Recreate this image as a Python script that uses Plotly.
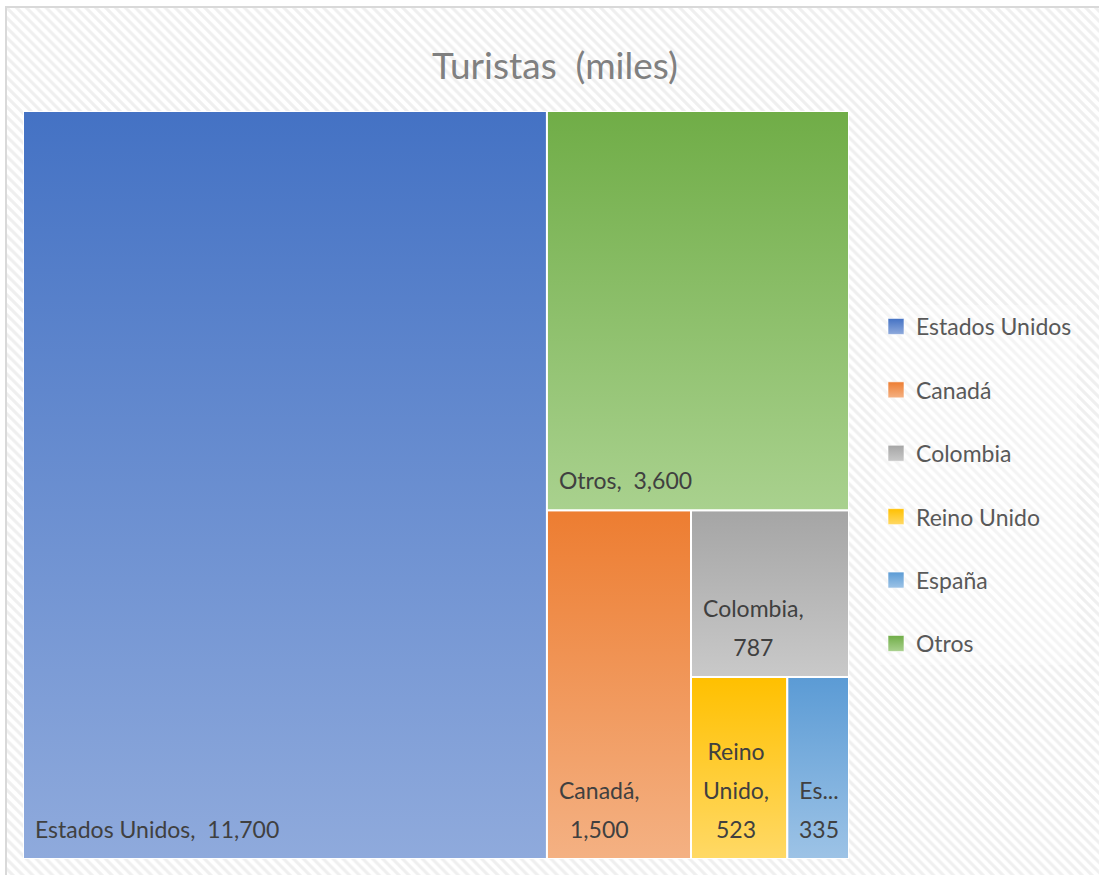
import plotly.graph_objects as go

# Tourist arrivals (thousands) by country of origin
countries = ["Estados Unidos", "Canadá", "Colombia", "Reino Unido", "España", "Otros"]
tourists = [11700, 1500, 787, 523, 335, 3600]

# Gradient fills: darker tone at the top of each tile, lighter at the bottom
color_top = ["#4472C4", "#ED7D31", "#A5A5A5", "#FFC000", "#5B9BD5", "#70AD47"]
color_bottom = ["#8FAADC", "#F4B183", "#C9C9C9", "#FFD966", "#9DC3E6", "#A9D18E"]

# How each name is written inside its tile (wrapped / shortened for narrow tiles)
tile_names = ["Estados Unidos", "Canadá", "Colombia", "Reino<br>Unido", "Es...", "Otros"]
name_value_sep = [",\u00a0 ", ",<br>", ",<br>", ",<br>", "<br>", ",\u00a0 "]

TITLE = "Turistas  (miles)"
FONT = "Lato, 'Open Sans', sans-serif"
LABEL_SIZE = 23
LINE_SIZE = 30  # sets the spacing between label lines


def slice_dice(values, x0, y0, x1, y1):
    """Alternating slice-and-dice layout, largest value first.
    Each item takes its share of the remaining rectangle, cutting
    columns from the left and rows from the top in turn."""
    order = sorted(range(len(values)), key=lambda i: -values[i])
    remaining = float(sum(values))
    rects = {}
    cut_columns = True
    for k, i in enumerate(order):
        frac = 1.0 if k == len(order) - 1 else values[i] / remaining
        if cut_columns:
            xm = x0 + (x1 - x0) * frac
            rects[i] = (x0, y0, xm, y1)
            x0 = xm
        else:
            ym = y1 - (y1 - y0) * frac
            rects[i] = (x0, ym, x1, y1)
            y1 = ym
        remaining -= values[i]
        cut_columns = not cut_columns
    return rects


rects = slice_dice(tourists, 0.0, 0.0, 1.0, 1.0)

fig = go.Figure()

# Hatched chart-area background
fig.add_trace(go.Bar(
    x=[0], y=[1], width=[1], xaxis="x", yaxis="y",
    marker=dict(color="white", line=dict(width=0),
                pattern=dict(shape="\\", fgcolor="#e0e0e0", bgcolor="white",
                             size=7, solidity=0.45, fillmode="overlay")),
    hoverinfo="skip", showlegend=False,
))

annotations = []
for i, name in enumerate(countries):
    ax0, ay0, ax1, ay1 = rects[i]
    fig.add_trace(go.Scatter(
        x=[ax0, ax1, ax1, ax0, ax0], y=[ay0, ay0, ay1, ay1, ay0],
        xaxis="x2", yaxis="y2", mode="lines", fill="toself",
        fillgradient=dict(type="vertical",
                          colorscale=[[0, color_bottom[i]], [1, color_top[i]]]),
        line=dict(color="white", width=2),
        name=name, text=f"{name}: {tourists[i]:,}", hoverinfo="text",
        showlegend=False,
    ))
    lines = (tile_names[i] + name_value_sep[i] + f"{tourists[i]:,}").split("<br>")
    text = "<br>".join(f"<span style='font-size:{LABEL_SIZE}px'>{ln}</span>" for ln in lines)
    annotations.append(dict(
        x=ax0, y=ay0, xref="x2", yref="y2", xanchor="left", yanchor="bottom",
        xshift=10, yshift=14, align="center", showarrow=False, text=text,
        font=dict(family=FONT, size=LINE_SIZE, color="#404040"),
    ))

# Legend entries (square swatches in data order)
for i, name in enumerate(countries):
    fig.add_trace(go.Scatter(
        x=[None], y=[None], xaxis="x2", yaxis="y2", mode="markers", name=name,
        legendgroup=name,
        marker=dict(symbol="square", size=16, color=color_top[i],
                    gradient=dict(type="vertical", color=color_bottom[i]),
                    line=dict(color="rgba(255,255,255,0.6)", width=1)),
    ))

annotations.append(dict(
    x=555 / 1099, y=1 - 64 / 875, xref="paper", yref="paper",
    xanchor="center", yanchor="middle", showarrow=False, text=TITLE,
    font=dict(family=FONT, size=37, color="#808080"),
))

W, H = 1099, 875
fig.update_layout(
    width=W, height=H, margin=dict(l=0, r=0, t=0, b=0),
    paper_bgcolor="white", plot_bgcolor="rgba(0,0,0,0)",
    font=dict(family=FONT, color="#595959"),
    xaxis=dict(domain=[6 / W, 1], range=[-0.5, 0.5], visible=False, fixedrange=True),
    yaxis=dict(domain=[0, 1 - 7 / H], range=[0, 1], visible=False, fixedrange=True),
    xaxis2=dict(domain=[23 / W, 849 / W], range=[0, 1], visible=False, fixedrange=True),
    yaxis2=dict(domain=[1 - 859 / H, 1 - 111 / H], range=[0, 1], visible=False, fixedrange=True),
    showlegend=True,
    legend=dict(x=876 / W, y=1 - 305 / H, xanchor="left", yanchor="top",
                font=dict(family=FONT, size=23, color="#595959"),
                bgcolor="rgba(255,255,255,0.3)", tracegroupgap=30.5,
                itemclick=False, itemdoubleclick=False),
    annotations=annotations,
    shapes=[dict(type="rect", xref="paper", yref="paper",
                 x0=6 / W, x1=1.02, y0=-0.02, y1=1 - 7 / H,
                 line=dict(color="#d9d9d9", width=2), layer="above")],
    bargap=0,
)

fig.write_html("out.html")
